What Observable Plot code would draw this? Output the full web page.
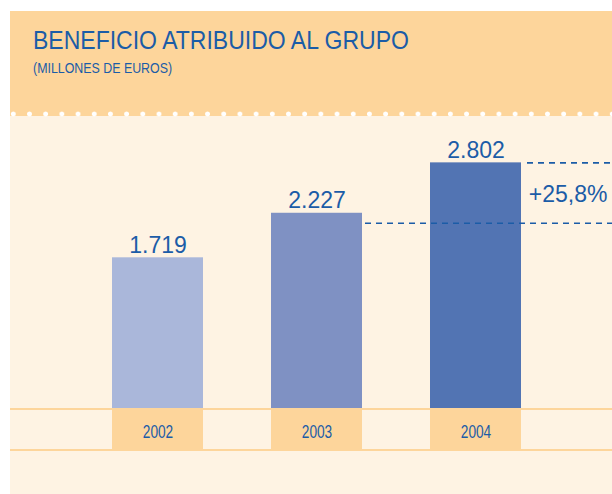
<!DOCTYPE html>
<html><head><meta charset="utf-8">
<script src="https://cdn.jsdelivr.net/npm/d3@7"></script>
<script src="https://cdn.jsdelivr.net/npm/@observablehq/plot@0.6"></script>
<style>
html,body{margin:0;padding:0;background:#fff;overflow:hidden;width:612px;height:494px;}
#panel{position:absolute;left:10px;top:11px;width:602px;height:483px;background:#FEF3E3;overflow:hidden;}
#header{position:absolute;left:0;top:0;width:602px;height:105px;background:#FDD59B;}
.cond{font-family:"Liberation Sans",Arial,sans-serif;color:#1B5CA7;white-space:nowrap;position:absolute;transform-origin:0 0;}
#title{left:23px;top:16px;font-size:26px;line-height:26px;transform:scaleX(0.885);}
#subtitle{left:23px;top:48.6px;font-size:15px;line-height:15px;transform:scaleX(0.826);}
#dots{position:absolute;left:0;top:100px;width:602px;height:6px;background-image:radial-gradient(circle, #fff 0, #fff 2.1px, rgba(255,255,255,0) 2.8px);background-size:16.2px 6px;background-position:-4.8px 0;background-repeat:repeat-x;}
#chart{position:absolute;left:0;top:105px;}
#axis{position:absolute;left:0;top:397px;border-top:2px solid #FDD59B;border-bottom:2px solid #FDD59B;}
#chart svg,#axis svg{display:block;}
</style>
</head><body>
<div id="panel">
  <div id="header">
    <div id="title" class="cond">BENEFICIO ATRIBUIDO AL GRUPO</div>
    <div id="subtitle" class="cond">(MILLONES DE EUROS)</div>
  </div>
  <div id="dots"></div>
  <div id="chart"></div>
  <div id="axis"></div>
</div>
<script>
const years = ["2002", "2003", "2004"];
const values = [1719, 2227, 2802];
const barColors = ["#AAB7DA", "#7F91C3", "#5274B3"];

const blue = "#1B5CA7";
const orange = "#FDD59B";
const sans = "'Liberation Sans', Arial, sans-serif";

const data = years.map((year, i) => ({year, value: values[i]}));
const es = d3.formatLocale({decimal: ",", thousands: ".", grouping: [3], currency: ["", " €"]});
const fmtInt = es.format(",");
const prev = data[data.length - 2];
const last = data[data.length - 1];
const growth = "+" + es.format(".1f")((last.value / prev.value - 1) * 100) + "%";

const xScale = {domain: years, range: [102, 511], paddingInner: 0.428, paddingOuter: 0, axis: null};

const chart = Plot.plot({
  width: 602,
  height: 292,
  marginLeft: 0,
  marginRight: 0,
  marginTop: 29,
  marginBottom: 0,
  style: {background: "transparent", overflow: "visible"},
  x: xScale,
  y: {domain: [0, 3000], axis: null},
  color: {domain: years, range: barColors},
  marks: [
    Plot.barY(data, {x: "year", y: "value", fill: "year", inset: 0}),
    Plot.text(data, {x: "year", y: "value", text: d => fmtInt(d.value), lineAnchor: "bottom", dy: -5,
      fontSize: 23, fontFamily: sans, fill: blue}),
    Plot.ruleY([prev.value], {insetLeft: 355, dy: 10, stroke: blue, strokeWidth: 1.6, strokeDasharray: "6,5"}),
    Plot.ruleY([last.value], {insetLeft: 517, stroke: blue, strokeWidth: 1.6, strokeDasharray: "6,5"}),
    Plot.text([growth], {y: [(prev.value + last.value) / 2], text: d => d, frameAnchor: "right", textAnchor: "end",
      lineAnchor: "middle", dx: -5, dy: 7, fontSize: 23, fontFamily: sans, fill: blue})
  ]
});
document.getElementById("chart").appendChild(chart);

const axis = Plot.plot({
  width: 602,
  height: 39,
  marginLeft: 0,
  marginRight: 0,
  marginTop: 0,
  marginBottom: 0,
  style: {background: "transparent", overflow: "visible"},
  x: xScale,
  marks: [
    Plot.cell(years, {x: d => d, fill: orange, inset: 0}),
    Plot.text(years, {x: d => d, text: d => d, frameAnchor: "middle", lineAnchor: "middle", dy: 2,
      fontSize: 18, fontFamily: sans, fill: blue})
  ]
});
document.getElementById("axis").appendChild(axis);
// condensed look for the year labels (narrow typeface in the original)
d3.select(axis).selectAll("text").each(function() {
  const w = this.getComputedTextLength();
  d3.select(this).attr("textLength", w * 0.76).attr("lengthAdjust", "spacingAndGlyphs");
});
</script>
</body></html>
